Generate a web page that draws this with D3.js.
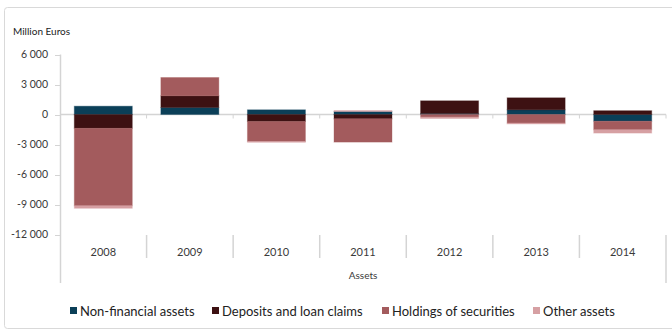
<!DOCTYPE html>
<html>
<head>
<meta charset="utf-8">
<script src="https://cdn.jsdelivr.net/npm/d3@7"></script>
<style>
  body { margin: 0; background: #fff; }
  svg { display: block; font-family: Lato, "Open Sans", "Liberation Sans", sans-serif; }
</style>
</head>
<body>
<svg id="chart" width="672" height="332"></svg>
<script>
const categories = ["2008", "2009", "2010", "2011", "2012", "2013", "2014"];
const seriesNames = ["Non-financial assets", "Deposits and loan claims", "Holdings of securities", "Other assets"];
const nonFinancial = [830, 700, 470, 300, 100, 470, -670];
const deposits = [-1380, 1170, -700, -430, 1270, 1200, 380];
const securities = [-7750, 1830, -2000, -2330, -250, -850, -860];
const other = [-250, 0, -80, 100, -150, -100, -330];
const yTicks = [6000, 3000, 0, -3000, -6000, -9000, -12000];
const yTickLabels = ["6 000", "3 000", "0", "-3 000", "-6 000", "-9 000", "-12 000"];
const yTitle = "Million Euros";
const groupLabel = "Assets";
const colors = ["#0b3f58", "#3d1112", "#a35b5d", "#d6a0a3"];

const series = [nonFinancial, deposits, securities, other];

const svg = d3.select("#chart");

// outer frame
svg.append("rect").attr("x", 4.5).attr("y", 7.5).attr("width", 690).attr("height", 321)
  .attr("rx", 3).attr("fill", "none").attr("stroke", "#d9d9d9").attr("stroke-width", 1);

const x = d3.scaleBand().domain(categories).range([60, 666]).paddingInner(0.33).paddingOuter(0.165);
const y = d3.scaleLinear().domain([-12000, 6000]).range([234.5, 54.5]);

// stacking (diverging)
const rects = [];
categories.forEach((c, i) => {
  let pos = 0, neg = 0;
  series.forEach((s, k) => {
    const v = s[i];
    if (v === 0) return;
    let y0, y1;
    if (v > 0) { y0 = pos; y1 = pos + v; pos = y1; }
    else { y0 = neg; y1 = neg + v; neg = y1; }
    rects.push({ c, k, y0, y1 });
  });
});

const axisColor = "#d4d4d4";
const textColor = "#3a3a3a";

// y axis line
svg.append("line").attr("x1", 60.5).attr("x2", 60.5).attr("y1", y(6000)).attr("y2", 283)
  .attr("stroke", axisColor).attr("stroke-width", 1.5);

// y ticks
const yAxisG = svg.append("g");
yTicks.forEach((t, i) => {
  yAxisG.append("line").attr("x1", 55).attr("x2", 60).attr("y1", Math.round(y(t)) + 0.5).attr("y2", Math.round(y(t)) + 0.5)
    .attr("stroke", axisColor).attr("stroke-width", 1);
  yAxisG.append("text").attr("x", 48).attr("y", y(t)).attr("dy", "0.35em")
    .attr("text-anchor", "end").attr("font-size", 10.5).attr("fill", textColor).text(yTickLabels[i]);
});

// y title
svg.append("text").attr("x", 13).attr("y", 35).attr("font-size", 10).attr("fill", "#222").text(yTitle);

// bars
svg.append("g").selectAll("rect").data(rects).join("rect")
  .attr("x", d => x(d.c))
  .attr("width", x.bandwidth())
  .attr("y", d => y(Math.max(d.y0, d.y1)))
  .attr("height", d => Math.abs(y(d.y0) - y(d.y1)))
  .attr("fill", d => colors[d.k])
  .attr("stroke", d => colors[d.k]).attr("stroke-opacity", 0.35).attr("stroke-width", 1);

// zero axis line
svg.append("line").attr("x1", 60).attr("x2", 666).attr("y1", y(0)).attr("y2", y(0))
  .attr("stroke", axisColor).attr("stroke-width", 1.5).lower();
svg.select("rect").lower();

// small ticks at category boundaries on zero line
const step = x.step();
const boundaries = categories.map((c, i) => 60 + step * (i + 1));
svg.append("g").selectAll("line").data(boundaries).join("line")
  .attr("x1", d => d).attr("x2", d => d).attr("y1", y(0)).attr("y2", y(0) + 4)
  .attr("stroke", axisColor).attr("stroke-width", 1);

// category separators (bottom)
svg.append("g").selectAll("line").data(boundaries.slice(0, -1)).join("line")
  .attr("x1", d => d).attr("x2", d => d).attr("y1", 235).attr("y2", 258)
  .attr("stroke", axisColor).attr("stroke-width", 1.5);
svg.append("line").attr("x1", 666).attr("x2", 666).attr("y1", 235).attr("y2", 283)
  .attr("stroke", axisColor).attr("stroke-width", 1.5);

// category labels
svg.append("g").selectAll("text").data(categories).join("text")
  .attr("x", d => x(d) + x.bandwidth() / 2)
  .attr("y", 255.5)
  .attr("text-anchor", "middle").attr("font-size", 11).attr("fill", textColor).text(d => d);

// group label
svg.append("text").attr("x", 363).attr("y", 278.5).attr("text-anchor", "middle")
  .attr("font-size", 10).attr("fill", textColor).text(groupLabel);

// legend
const legendX = [70, 212, 382, 533];
const lg = svg.append("g");
seriesNames.forEach((n, i) => {
  lg.append("rect").attr("x", legendX[i]).attr("y", 307).attr("width", 7).attr("height", 7).attr("fill", colors[i]);
  lg.append("text").attr("x", legendX[i] + 10).attr("y", 315.5).attr("font-size", 13).attr("fill", "#222").text(n);
});
</script>
</body>
</html>
